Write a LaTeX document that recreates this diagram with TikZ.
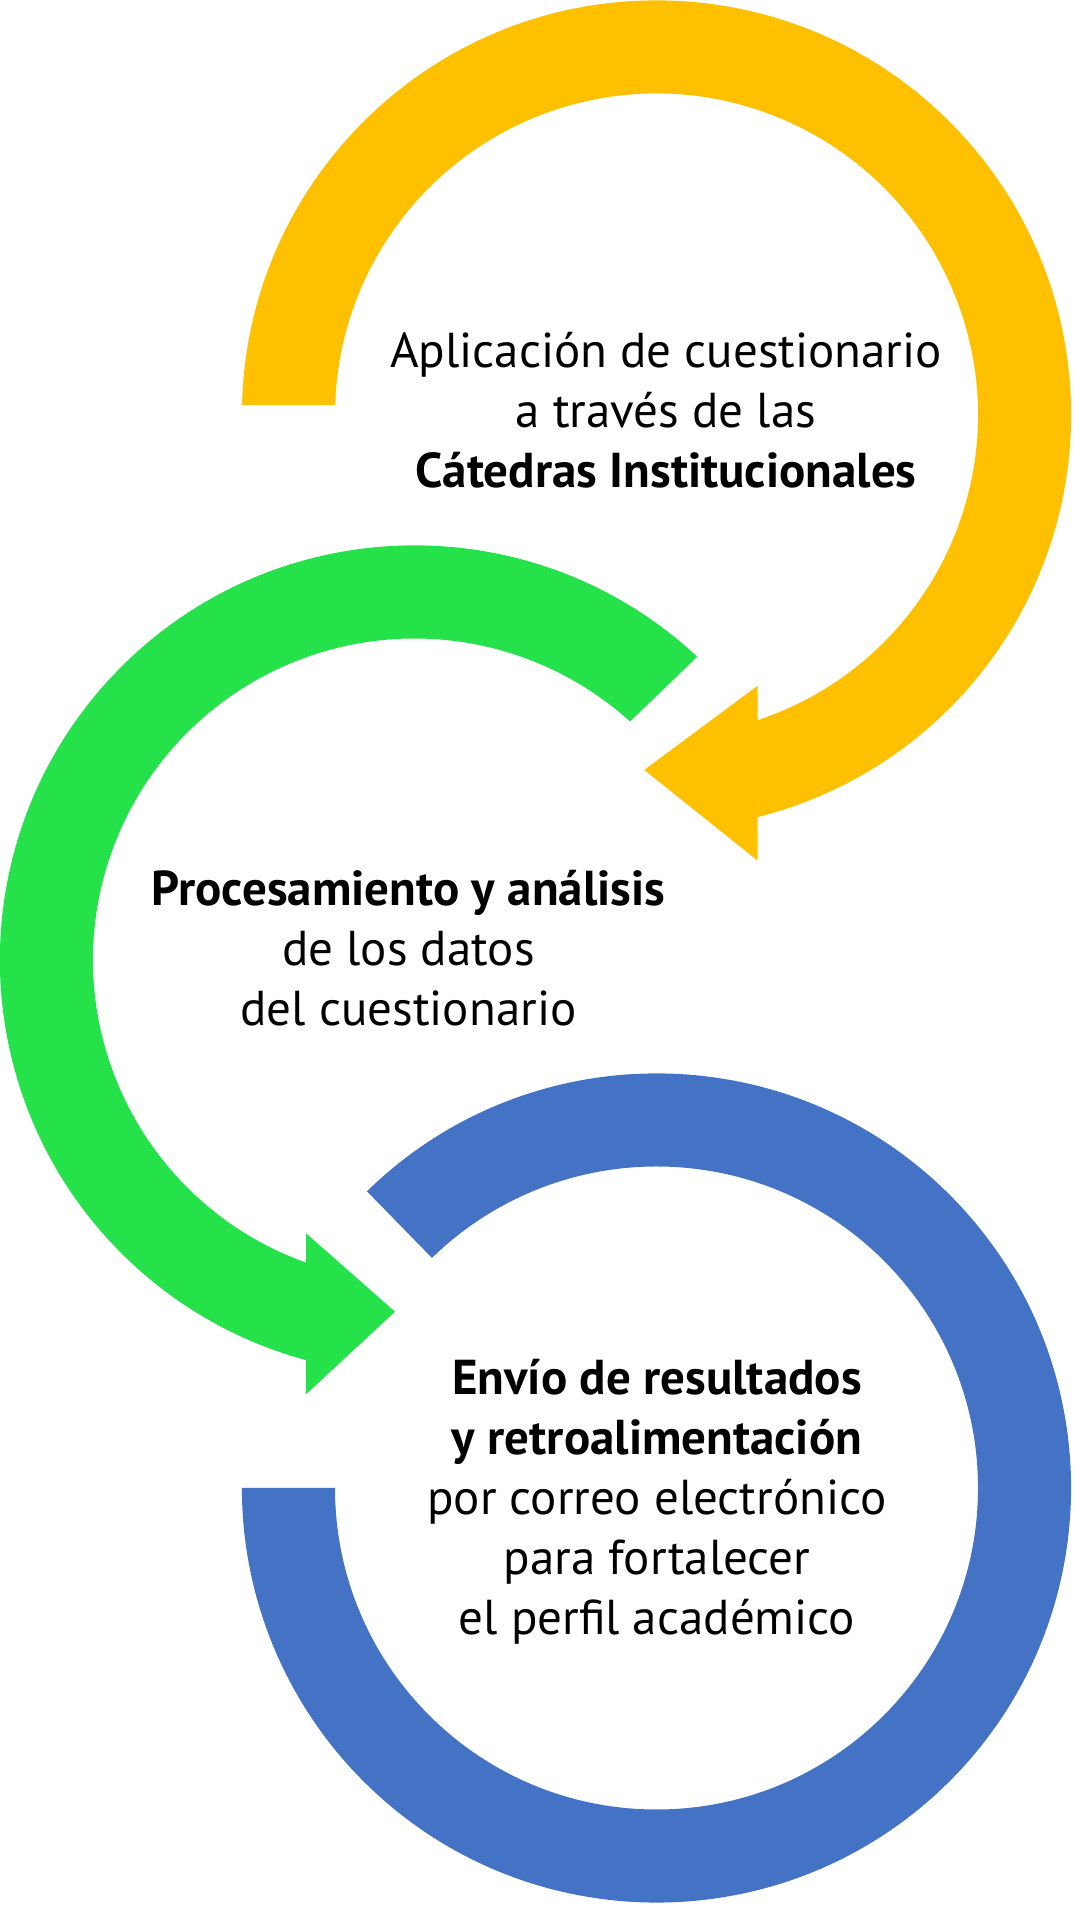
\documentclass[tikz,border=0pt]{standalone}
\usepackage{fontspec}
\setmainfont{PT Sans}
\usetikzlibrary{calc}
\definecolor{yel}{HTML}{FFC000}
\definecolor{grn}{HTML}{25E24A}
\definecolor{blu}{HTML}{4472C4}
\tikzset{
  lbl/.style={align=center, anchor=base, inner sep=0pt, text=black,
    font=\fontsize{24.5}{30}\selectfont},
}
\begin{document}
\begin{tikzpicture}[x=0.5pt,y=0.5pt]
\useasboundingbox (0,0) rectangle (1073,1905);
\fill[white] (0,0) rectangle (1073,1905);
\coordinate (C1) at (656.5,1490);
\coordinate (C2) at (414.5,945);
\coordinate (C3) at (656.5,417);
% yellow arrow
\fill[yel] ($(C1)+(178.6:207.3pt)$) arc[start angle=178.6, end angle=-75.87, radius=207.3pt]
  -- (757.7,1044.3) -- (644.3,1135) -- (757.7,1219.3) -- ($(C1)+(-71.65:160.75pt)$)
  arc[start angle=-71.65, end angle=178.2, radius=160.75pt] -- cycle;
% green arrow
\fill[grn] ($(C2)+(47.0:207.3pt)$) arc[start angle=47.0, end angle=254.8, radius=207.3pt]
  -- (306,510.7) -- (395,593.3) -- (306,671.7) -- ($(C2)+(250.3:160.75pt)$)
  arc[start angle=250.3, end angle=47.9, radius=160.75pt] -- cycle;
% blue ring
\fill[blu] ($(C3)+(134.3:207.3pt)$) arc[start angle=134.3, end angle=-180, radius=207.3pt]
  -- ($(C3)+(180:160.75pt)$) arc[start angle=-180, end angle=134.3, radius=160.75pt] -- cycle;
% texts (anchor = baseline of the last line)
\node[lbl] (t1) at (666,1417) {Aplicación de cuestionario\\a través de las\\\textbf{Cátedras Institucionales}};
\node[lbl] (t2) at (408.5,879.8) {\textbf{Procesamiento y análisis}\\de los datos\\del cuestionario};
\node[lbl] (t3) at (657,270.5) {\textbf{Envío de resultados}\\\textbf{y retroalimentación}\\por correo electrónico\\para fortalecer\\el perfil académico};
\end{tikzpicture}
\end{document}
